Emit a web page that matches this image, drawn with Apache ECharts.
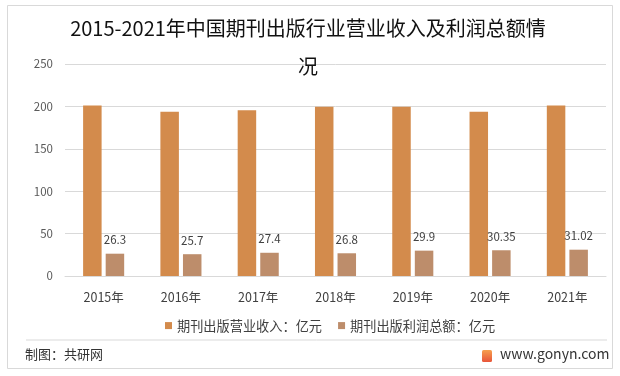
<!DOCTYPE html>
<html>
<head>
<meta charset="utf-8">
<script src="https://cdn.jsdelivr.net/npm/echarts@6/dist/echarts.min.js"></script>
<style>
  html, body { margin: 0; padding: 0; background: #fff; }
  #main { width: 620px; height: 376px; }
</style>
</head>
<body>
<div id="main"></div>
<script>
// 数据
const years = ['2015年', '2016年', '2017年', '2018年', '2019年', '2020年', '2021年']
const revenue = [201.0, 193.7, 195.5, 199.5, 199.6, 193.6, 201.2]
const profit = [26.3, 25.7, 27.4, 26.8, 29.9, 30.35, 31.02]
const yTicks = [0, 50, 100, 150, 200, 250]

const font = '"Noto Sans CJK SC", "Noto Sans", sans-serif'
const chart = echarts.init(document.getElementById('main'))

chart.setOption({
  backgroundColor: '#fff',
  textStyle: { fontFamily: font },
  title: {
    text: '2015-2021年中国期刊出版行业营业收入及利润总额情\n况',
    left: 308,
    textAlign: 'center',
    top: 10,
    padding: 0,
    textStyle: { fontSize: 20, fontWeight: 'normal', color: '#111', lineHeight: 37.5, fontFamily: font }
  },
  legend: {
    left: 160,
    top: 314,
    itemWidth: 7,
    itemHeight: 7,
    itemGap: 16,
    icon: 'rect',
    textStyle: { fontSize: 13.2, color: '#404040', fontFamily: font },
    data: ['期刊出版营业收入：亿元', '期刊出版利润总额：亿元']
  },
  grid: { left: 65, right: 14, top: 64, bottom: 100 },
  xAxis: {
    type: 'category',
    data: years,
    axisLine: { lineStyle: { color: '#d9d9d9' } },
    axisTick: { show: false },
    axisLabel: { fontSize: 12.5, color: '#404040', margin: 15 }
  },
  yAxis: {
    type: 'value',
    min: yTicks[0],
    max: yTicks[yTicks.length - 1],
    interval: 50,
    axisLine: { show: false },
    axisTick: { show: false },
    axisLabel: { fontSize: 11.5, color: '#595959', margin: 12 },
    splitLine: { lineStyle: { color: '#d9d9d9' } }
  },
  series: [
    {
      name: '期刊出版营业收入：亿元',
      type: 'bar',
      data: revenue,
      barWidth: 18.5,
      barGap: '22%',
      itemStyle: { color: '#d38b4c' }
    },
    {
      name: '期刊出版利润总额：亿元',
      type: 'bar',
      data: profit,
      barWidth: 18.5,
      itemStyle: { color: '#bd8d6b' },
      label: {
        show: true,
        position: 'top',
        distance: 8,
        fontSize: 11.5,
        color: '#404040'
      }
    }
  ],
  graphic: [
    {
      type: 'rect',
      shape: { x: 7.5, y: 5.5, width: 605, height: 363 },
      style: { fill: 'none', stroke: '#d9d9d9', lineWidth: 1 },
      silent: true
    },
    {
      type: 'line',
      shape: { x1: 26, y1: 340, x2: 607, y2: 340 },
      style: { stroke: '#d9d9d9', lineWidth: 1 }
    },
    {
      type: 'text',
      left: 25,
      top: 348,
      style: { text: '制图：共研网', fontSize: 13, fill: '#333', fontFamily: font }
    },
    {
      type: 'rect',
      shape: { x: 482, y: 350, width: 10, height: 12, r: 1.5 },
      style: {
        fill: new echarts.graphic.LinearGradient(0, 0, 0, 1, [
          { offset: 0, color: '#f6a04d' },
          { offset: 1, color: '#e8553a' }
        ])
      }
    },
    {
      type: 'text',
      left: 500,
      top: 347,
      style: { text: 'www.gonyn.com', fontSize: 14, fill: '#333', fontFamily: font }
    }
  ]
})
</script>
</body>
</html>
